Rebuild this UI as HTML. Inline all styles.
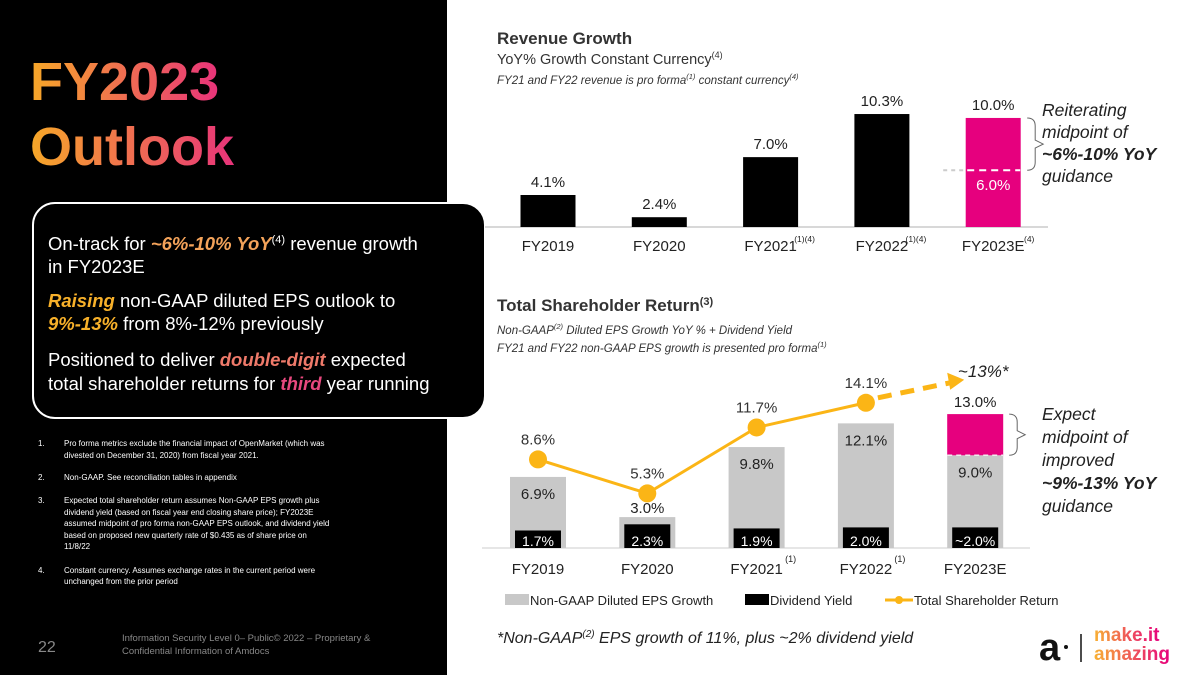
<!DOCTYPE html>
<html><head><meta charset="utf-8"><style>
body{margin:0;background:#fff;}
svg{display:block;font-family:"Liberation Sans",sans-serif;}
</style></head><body>
<svg id="s" width="1200" height="675" viewBox="0 0 1200 675" xmlns="http://www.w3.org/2000/svg">
<defs>
<linearGradient id="g" x1="0" x2="1" y1="0" y2="0"><stop offset="0" stop-color="#f7a828"/><stop offset="1" stop-color="#e8337a"/></linearGradient>
<linearGradient id="g2" x1="0" x2="1" y1="0" y2="0"><stop offset="0" stop-color="#f8b133"/><stop offset="1" stop-color="#e6007e"/></linearGradient>
</defs>
<rect x="0" y="0" width="447" height="675" fill="#000"/>
<text x="30" y="100" font-size="54" font-weight="bold" fill="url(#g)">FY2023</text>
<text x="30" y="165" font-size="54" font-weight="bold" fill="url(#g)">Outlook</text>
<rect x="33" y="203" width="452" height="215" rx="22" fill="#000" stroke="#fff" stroke-width="2"/>
<g font-size="18.5" fill="#fff">
<text x="48" y="250">On-track for <tspan fill="#f4a35a" font-weight="bold" font-style="italic">~6%-10% YoY</tspan><tspan font-size="11" dy="-7">(4)</tspan><tspan dy="7"> revenue growth</tspan></text>
<text x="48" y="273">in FY2023E</text>
<text x="48" y="307"><tspan fill="#f8b12a" font-weight="bold" font-style="italic">Raising</tspan> non-GAAP diluted EPS outlook to</text>
<text x="48" y="330"><tspan fill="#f8b12a" font-weight="bold" font-style="italic">9%-13%</tspan> from 8%-12% previously</text>
<text x="48" y="366">Positioned to deliver <tspan fill="#ef7a6a" font-weight="bold" font-style="italic">double-digit</tspan> expected</text>
<text x="48" y="390">total shareholder returns for <tspan fill="#e8487e" font-weight="bold" font-style="italic">third</tspan> year running</text>
</g>
<g font-size="8" fill="#fff">
<text x="38" y="446">1.</text><text x="64" y="446">Pro forma metrics exclude the financial impact of OpenMarket (which was</text>
<text x="64" y="458">divested on December 31, 2020) from fiscal year 2021.</text>
<text x="38" y="480">2.</text><text x="64" y="480">Non-GAAP. See reconciliation tables in appendix</text>
<text x="38" y="503">3.</text><text x="64" y="503">Expected total shareholder return assumes Non-GAAP EPS growth plus</text>
<text x="64" y="515">dividend yield (based on fiscal year end closing share price); FY2023E</text>
<text x="64" y="526">assumed midpoint of pro forma non-GAAP EPS outlook, and dividend yield</text>
<text x="64" y="538">based on proposed new quarterly rate of $0.435 as of share price on</text>
<text x="64" y="549">11/8/22</text>
<text x="38" y="573">4.</text><text x="64" y="573">Constant currency. Assumes exchange rates in the current period were</text>
<text x="64" y="584">unchanged from the prior period</text>
</g>
<text x="38" y="652" font-size="16" fill="#888">22</text>
<text x="122" y="641" font-size="9.5" fill="#888">Information Security Level 0– Public© 2022 – Proprietary &amp;</text>
<text x="122" y="654" font-size="9.5" fill="#888">Confidential Information of Amdocs</text>

<text x="497" y="44" font-size="17" font-weight="bold" fill="#333">Revenue Growth</text>
<text x="497" y="64" font-size="14.5" fill="#333">YoY% Growth Constant Currency<tspan font-size="9" dy="-6">(4)</tspan></text>
<text x="497" y="84" font-size="11.5" font-style="italic" fill="#333">FY21 and FY22 revenue is pro forma<tspan font-size="7.5" dy="-5">(1)</tspan><tspan dy="5"> constant currency</tspan><tspan font-size="7.5" dy="-5">(4)</tspan></text>
<g id="topchart"></g>
<text x="1042" y="116" font-size="17.5" font-style="italic" fill="#222"><tspan x="1042">Reiterating</tspan><tspan x="1042" dy="22">midpoint of</tspan><tspan x="1042" dy="22" font-weight="bold">~6%-10% YoY</tspan><tspan x="1042" dy="22">guidance</tspan></text>

<text x="497" y="311" font-size="17" font-weight="bold" fill="#333">Total Shareholder Return<tspan font-size="11" dy="-6">(3)</tspan></text>
<text x="497" y="334" font-size="11.5" font-style="italic" fill="#333">Non-GAAP<tspan font-size="7.5" dy="-5">(2)</tspan><tspan dy="5"> Diluted EPS Growth YoY % + Dividend Yield</tspan></text>
<text x="497" y="352" font-size="11.5" font-style="italic" fill="#333">FY21 and FY22 non-GAAP EPS growth is presented pro forma<tspan font-size="7.5" dy="-5">(1)</tspan></text>
<g id="botchart"></g>
<text x="1042" y="420" font-size="17.5" font-style="italic" fill="#222"><tspan x="1042">Expect</tspan><tspan x="1042" dy="23">midpoint of</tspan><tspan x="1042" dy="23">improved</tspan><tspan x="1042" dy="23" font-weight="bold">~9%-13% YoY</tspan><tspan x="1042" dy="23">guidance</tspan></text>

<g font-size="13" fill="#222">
<rect x="505" y="594" width="24" height="11" fill="#c8c8c8"/>
<text x="530" y="605">Non-GAAP Diluted EPS Growth</text>
<rect x="745" y="594" width="24" height="11" fill="#000"/>
<text x="770" y="605">Dividend Yield</text>
<line x1="885" y1="600" x2="913" y2="600" stroke="#fbb516" stroke-width="3"/>
<circle cx="899" cy="600" r="4" fill="#fbb516"/>
<text x="914" y="605">Total Shareholder Return</text>
</g>
<text x="497" y="643" font-size="16" font-style="italic" fill="#222">*Non-GAAP<tspan font-size="10" dy="-6">(2)</tspan><tspan dy="6"> EPS growth of 11%, plus ~2% dividend yield</tspan></text>
<g>
<text x="1039" y="660" font-size="38" font-weight="bold" fill="#111">a</text>
<circle cx="1066" cy="647" r="2" fill="#111"/>
<line x1="1081" y1="634" x2="1081" y2="662" stroke="#111" stroke-width="1.5"/>
<text x="1094" y="641" font-size="19" font-weight="bold" fill="url(#g2)">make.it</text>
<text x="1094" y="660" font-size="19" font-weight="bold" fill="url(#g2)">amazing</text>
</g>
</svg>
<script>
const NS="http://www.w3.org/2000/svg";
const revCats=["FY2019","FY2020","FY2021","FY2022","FY2023E"];
const revSup=["","","(1)(4)","(1)(4)","(4)"];
const revVals=[4.1,2.4,7.0,10.3,10.0];
const revLow=6.0;
const tsrCats=["FY2019","FY2020","FY2021","FY2022","FY2023E"];
const tsrSup=["","","(1)","(1)",""];
const epsVals=[6.9,3.0,9.8,12.1,9.0];
const epsHigh=13.0;
const divVals=[1.7,2.3,1.9,2.0,2.0];
const divLabels=["1.7%","2.3%","1.9%","2.0%","~2.0%"];
const tsrVals=[8.6,5.3,11.7,14.1];
const tsrTarget="~13%*";

function mk(p,t,a,txt){const e=document.createElementNS(NS,t);for(const k in a)e.setAttribute(k,a[k]);if(txt!==undefined)e.textContent=txt;p.appendChild(e);return e;}
const xTop=i=>548+i*111.3, yTop=v=>227-(v-1.65)*13.06;
const xBot=i=>538+i*109.3, yBot=v=>548-v*10.3;
const topG=document.getElementById('topchart'), botG=document.getElementById('botchart');
mk(topG,'line',{x1:485,y1:227,x2:1048,y2:227,stroke:'#ccc','stroke-width':1.5});
revVals.forEach((v,i)=>{
  const last=i===revVals.length-1;
  const r=mk(topG,'rect',{x:xTop(i)-27.5,y:yTop(v),width:55,height:227-yTop(v),fill:last?'#e6007e':'#000'});
  
  
  const t=mk(topG,'text',{x:xTop(i),y:yTop(v)-8,'font-size':15,'text-anchor':'middle',fill:'#222'},v.toFixed(1)+'%');
  
  
  const c=mk(topG,'text',{x:xTop(i),y:251,'font-size':15,'text-anchor':'middle',fill:'#222'},revCats[i]);
  
  
  if(revSup[i]) mk(topG,'text',{x:xTop(i)+(i===4?36:34),y:242,'font-size':8.5,'text-anchor':'middle',fill:'#222'},revSup[i]);
});
{const i=4;
 const d=mk(topG,'line',{x1:xTop(i)-50,y1:yTop(revLow),x2:xTop(i)+27,y2:yTop(revLow),stroke:'#fff','stroke-width':2,'stroke-dasharray':'7,5'});
 
 
 mk(topG,'line',{x1:xTop(i)-50,y1:yTop(revLow),x2:xTop(i)-28,y2:yTop(revLow),stroke:'#ccc','stroke-width':2,'stroke-dasharray':'4,4'});
 const t=mk(topG,'text',{x:xTop(i),y:yTop(revLow)+20,'font-size':15,'text-anchor':'middle',fill:'#fff'},revLow.toFixed(1)+'%');
 
 
 const y1=yTop(revVals[4]),y2=yTop(revLow),m=(y1+y2)/2,bx=xTop(i)+34;
 const b=mk(topG,'path',{d:`M${bx} ${y1} Q${bx+8} ${y1} ${bx+8} ${y1+8} L${bx+8} ${m-4} L${bx+16} ${m} L${bx+8} ${m+4} L${bx+8} ${y2-8} Q${bx+8} ${y2} ${bx} ${y2}`,fill:'none',stroke:'#666','stroke-width':1});
 
 
}
mk(botG,'line',{x1:482,y1:548,x2:1030,y2:548,stroke:'#ddd','stroke-width':1.5});
epsVals.forEach((v,i)=>{
  const x=xBot(i);
  const r=mk(botG,'rect',{x:x-28,y:yBot(v),width:56,height:548-yBot(v),fill:'#c8c8c8'});
  
  
  const d=mk(botG,'rect',{x:x-23,y:yBot(divVals[i]),width:46,height:548-yBot(divVals[i]),fill:'#000'});
  
  
  const dl=mk(botG,'text',{x:x,y:546,'font-size':14,'text-anchor':'middle',fill:'#fff'},divLabels[i]);
  
  
  const inside=v>5;
  const el=mk(botG,'text',{x:x,y:inside?yBot(v)+22:yBot(v)-4,'font-size':15,'text-anchor':'middle',fill:'#222'},v.toFixed(1)+'%');
  
  
  const c=mk(botG,'text',{x:x,y:574,'font-size':15,'text-anchor':'middle',fill:'#222'},tsrCats[i]);
  
  
  if(tsrSup[i]) mk(botG,'text',{x:x+34,y:562,'font-size':9,'text-anchor':'middle',fill:'#222'},tsrSup[i]);
});
{const i=4,x=xBot(i);
 const p=mk(botG,'rect',{x:x-28,y:yBot(epsHigh),width:56,height:yBot(epsVals[i])-yBot(epsHigh),fill:'#e6007e'});
 
 
 mk(botG,'line',{x1:x-28,y1:yBot(epsVals[i]),x2:x+28,y2:yBot(epsVals[i]),stroke:'#eee','stroke-width':1.5,'stroke-dasharray':'5,4'});
 const t=mk(botG,'text',{x:x,y:yBot(epsHigh)-7,'font-size':15,'text-anchor':'middle',fill:'#222'},epsHigh.toFixed(1)+'%');
 
 
 const y1=yBot(epsHigh),y2=yBot(epsVals[i]),m=(y1+y2)/2,bx=x+34;
 const b=mk(botG,'path',{d:`M${bx} ${y1} Q${bx+8} ${y1} ${bx+8} ${y1+8} L${bx+8} ${m-4} L${bx+16} ${m} L${bx+8} ${m+4} L${bx+8} ${y2-8} Q${bx+8} ${y2} ${bx} ${y2}`,fill:'none',stroke:'#666','stroke-width':1});
 
 
}
const pts=tsrVals.map((v,i)=>xBot(i)+','+yBot(v)).join(' ');
const pl=mk(botG,'polyline',{points:pts,fill:'none',stroke:'#fbb516','stroke-width':3});


tsrVals.forEach((v,i)=>{
  const c=mk(botG,'circle',{cx:xBot(i),cy:yBot(v),r:9,fill:'#fbb516'});
  
  
  const t=mk(botG,'text',{x:xBot(i),y:yBot(v)-15,'font-size':15,'text-anchor':'middle',fill:'#333'},v.toFixed(1)+'%');
  
  
});
{const x0=xBot(3)+12,y0=yBot(tsrVals[3])-5,x1=xBot(4)-25,y1=yBot(tsrVals[3])-22;
 const a=mk(botG,'line',{x1:x0,y1:y0,x2:x1,y2:y1+2,stroke:'#fbb516','stroke-width':5,'stroke-dasharray':'14,9'});
 
 
 mk(botG,'polygon',{points:`${x1+14},${y1-1} ${x1-3},${y1-8} ${x1},${y1+9}`,fill:'#fbb516'});
 const t=mk(botG,'text',{x:xBot(4)+8,y:y1-4,'font-size':17,'font-style':'italic','text-anchor':'middle',fill:'#222'},tsrTarget);
 
 
}
</script>
</body></html>
